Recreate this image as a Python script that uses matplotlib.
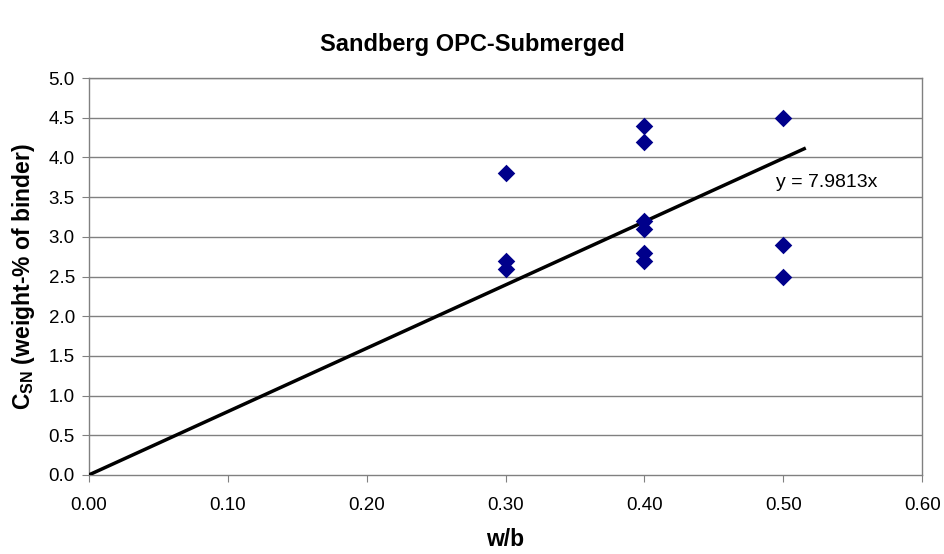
import matplotlib
matplotlib.use("Agg")
import matplotlib.pyplot as plt
import numpy as np

plt.rcParams['font.family'] = ['Liberation Sans', 'DejaVu Sans']

# measured points
wb = [0.30, 0.30, 0.30, 0.40, 0.40, 0.40, 0.40, 0.40, 0.40, 0.50, 0.50, 0.50]
csn = [3.8, 2.7, 2.6, 4.4, 4.2, 3.2, 3.1, 2.8, 2.7, 4.5, 2.9, 2.5]

# trendline through origin
slope = 7.9813
trend_x = [0.0, 0.515]

xticks = [0.0, 0.1, 0.2, 0.3, 0.4, 0.5, 0.6]
yticks = [0.0, 0.5, 1.0, 1.5, 2.0, 2.5, 3.0, 3.5, 4.0, 4.5, 5.0]

fig = plt.figure(figsize=(9.44, 5.54), dpi=100)
ax = fig.add_axes([0.094, 0.1426, 0.883, 0.7164])

for yv in yticks[1:]:
    ax.axhline(yv, color='#808080', lw=1.0, zorder=1)

ax.plot(trend_x, [slope * v for v in trend_x], color='black', lw=2.5, zorder=3)
ax.scatter(wb, csn, marker='D', s=80, color='#00008B', zorder=4, linewidths=0)

ax.text(0.495, 3.68, 'y = 7.9813x', fontsize=14, ha='left', va='center')

ax.set_xlim(0, 0.6)
ax.set_ylim(0, 5.0)
ax.set_xticks(xticks)
ax.set_xticklabels(['%.2f' % v for v in xticks], fontsize=13.5)
ax.set_yticks(yticks)
ax.set_yticklabels(['%.1f' % v for v in yticks], fontsize=13.5)
ax.tick_params(direction='out', length=5, color='#808080')
ax.tick_params(axis='x', pad=11)
ax.tick_params(axis='y', pad=5)

for s in ax.spines.values():
    s.set_color('#808080')
    s.set_linewidth(1.0)

ax.set_xlabel('w/b', fontsize=16.5, fontweight='bold', labelpad=10)
ax.set_ylabel(r'C$_\mathregular{SN}$ (weight-% of binder)', fontsize=16.5,
              fontweight='bold', labelpad=8)
fig.suptitle('Sandberg OPC-Submerged', fontsize=17, fontweight='bold', y=0.94)

fig.savefig('out.png', dpi=100)
